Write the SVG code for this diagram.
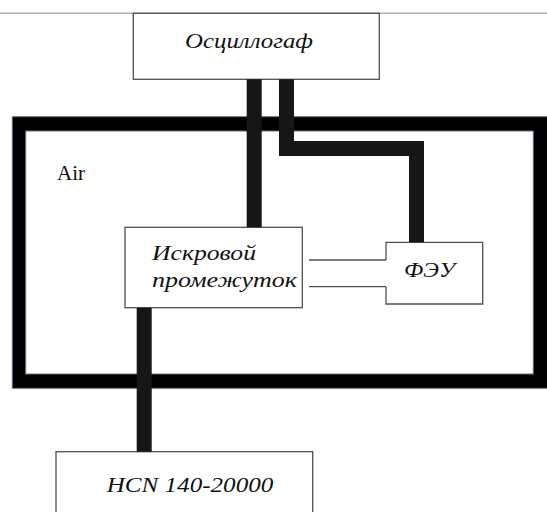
<svg xmlns="http://www.w3.org/2000/svg" width="547" height="512" viewBox="0 0 547 512">
<style>
.box{fill:#fff;stroke:#505050;stroke-width:1.3}
.lbl{font-family:'Liberation Serif','DejaVu Serif','Noto Serif',serif;font-style:italic;font-size:22px;fill:#111}
.plain{font-family:'Liberation Serif','DejaVu Serif','Noto Serif',serif;font-size:21px;fill:#111}
.wire{fill:none;stroke:#161616;stroke-width:15;stroke-linejoin:miter;stroke-linecap:butt}
.thin{fill:none;stroke:#505050;stroke-width:1.3}
.edge{fill:none;stroke:#6a6a88;stroke-width:1}
</style>
<rect x="0" y="0" width="547" height="512" fill="#fff"/>
<line x1="0" y1="13.3" x2="547" y2="13.3" stroke="#b0b0b0" stroke-width="1.5"/>
<g id="air">
<path d="M12.3,116.7 H560 V388.3 H12.3 Z M25.7,131 V374 H533.3 V131 Z" fill="#000" fill-rule="evenodd"/>
<rect class="edge" x="25.7" y="131" width="507.6" height="243"/>
<path class="edge" d="M560,116.7 H12.3 V388.3 H560"/>
<text class="plain" x="57" y="180">Air</text>
</g>
<g id="osc">
<rect class="box" x="133.3" y="13.3" width="246" height="66"/>
<text class="lbl" x="185" y="48.3" textLength="128" lengthAdjust="spacingAndGlyphs">Осциллогаф</text>
</g>
<g id="spark">
<rect class="box" x="125" y="227.3" width="177.3" height="80.4"/>
<text class="lbl" x="152" y="260" textLength="104" lengthAdjust="spacingAndGlyphs">Искровой</text>
<text class="lbl" x="152" y="286.7" textLength="145" lengthAdjust="spacingAndGlyphs">промежуток</text>
</g>
<g id="feu">
<path d="M386,260 V242.3 H482.7 V304 H386 V286.7 Z" fill="#fff" stroke="none"/>
<path class="thin" d="M386,260 V242.3 H482.7 V304 H386 V286.7"/>
<text class="lbl" x="404" y="276.7" textLength="51" lengthAdjust="spacingAndGlyphs">ФЭУ</text>
</g>
<g id="hcn">
<rect class="box" x="56" y="451.7" width="256.7" height="70"/>
<text class="lbl" x="106.7" y="491.7" textLength="166.6" lengthAdjust="spacingAndGlyphs">HCN 140-20000</text>
</g>
<g id="connectors">
<line class="wire" x1="254.2" y1="79.3" x2="254.2" y2="227.3"/>
<polyline class="wire" points="286.5,79.3 286.5,148.5 416.5,148.5 416.5,242.3"/>
<line class="wire" x1="144.2" y1="307.7" x2="144.2" y2="451.7" stroke-width="16"/>
<line class="thin" x1="309" y1="260" x2="386" y2="260"/>
<line class="thin" x1="309" y1="286.7" x2="386" y2="286.7"/>
</g>
</svg>
